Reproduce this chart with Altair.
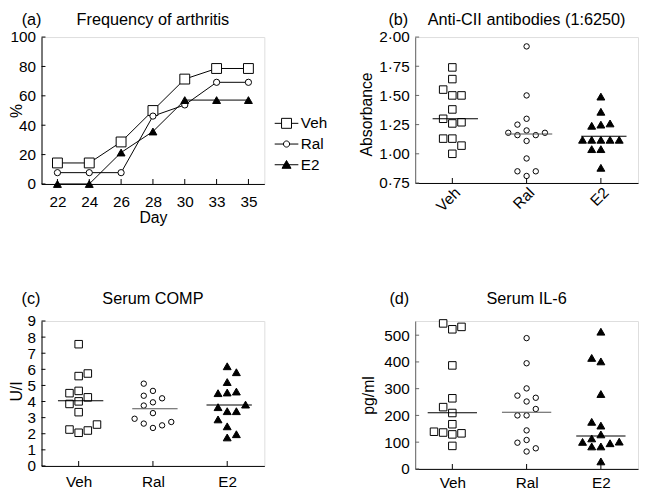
import altair as alt
import pandas as pd

FONT = "Liberation Sans"
GROUPS = ["Veh", "Ral", "E2"]

# ---------------- (a) Frequency of arthritis ----------------
days = ["22", "24", "26", "28", "30", "33", "35"]
freq_veh = [14.3, 14.3, 28.6, 50.0, 71.4, 78.6, 78.6]
freq_ral = [7.7, 7.7, 7.7, 46.2, 53.8, 69.2, 69.2]
freq_e2 = [0.0, 0.0, 21.4, 35.7, 57.1, 57.1, 57.1]
pct_ticks = [0, 20, 40, 60, 80, 100]

# ---------------- (b) Anti-CII antibodies ----------------
abs_veh = [1.74, 1.64, 1.55, 1.50, 1.50, 1.38, 1.30, 1.26, 1.27, 1.13, 1.13, 1.07, 1.00]
abs_veh_pos = [0, 0, -1, 0, 1, 0, -1, 0, 1, -1, 0, 1, 0]
abs_ral = [1.92, 1.50, 1.30, 1.25, 1.18, 1.16, 1.20, 1.16, 1.18, 1.11, 0.96, 0.85, 0.85, 0.81]
abs_ral_pos = [0, 0, 0, -1, -2, -1, 0, 1, 2, 0, 0, -1, 1, 0]
abs_e2 = [1.49, 1.36, 1.24, 1.25, 1.26, 1.12, 1.12, 1.12, 1.12, 1.12, 1.04, 1.04, 0.88]
abs_e2_pos = [0, 0, -1, 0, 1, -2, -1, 0, 1, 2, -1, 0, 0]
abs_median = [1.30, 1.17, 1.15]
abs_ticks = [0.75, 1.0, 1.25, 1.5, 1.75, 2.0]

# ---------------- (c) Serum COMP ----------------
comp_veh = [7.56, 5.58, 5.74, 4.66, 4.52, 4.26, 4.01, 3.85, 3.34, 2.26, 2.06, 2.20, 2.57]
comp_veh_pos = [0, 0, 1, 0, -1, 1, 0, -1, 0, -1, 0, 1, 2]
comp_ral = [5.11, 4.36, 4.66, 4.20, 3.75, 3.95, 3.28, 2.93, 2.63, 2.36, 2.52, 2.73]
comp_ral_pos = [-1, -1, 0, 1, -1, 0, 0, -2, -1, 0, 1, 2]
comp_e2 = [6.19, 5.82, 5.21, 4.52, 4.56, 4.62, 3.65, 3.81, 3.40, 3.40, 2.89, 2.46, 1.77, 1.97]
comp_e2_pos = [0, 1, 0, -1, 0, 1, -1, 2, 0, 1, -1, 0, 0, 1]
comp_median = [4.05, 3.55, 3.78]
comp_ticks = [0, 1, 2, 3, 4, 5, 6, 7, 8, 9]

# ---------------- (d) Serum IL-6 ----------------
il6_veh = [544, 531, 522, 387, 264, 231, 209, 167, 139, 136, 129, 133, 86]
il6_veh_pos = [-1, 1, 0, 0, 0, -1, 0, 0, -2, -1, 0, 1, 0]
il6_ral = [489, 395, 301, 274, 252, 266, 224, 200, 200, 144, 98, 108, 77, 65]
il6_ral_pos = [0, 0, 0, -1, 0, 1, 1, -1, 0, 0, -1, 0, 1, 0]
il6_e2 = [513, 415, 402, 280, 176, 162, 129, 114, 101, 84, 84, 96, 102, 28]
il6_e2_pos = [0, -1, 0, 0, -1, 0, 0, -1, -2, -1, 0, 1, 2, 0]
il6_median = [210, 212, 123]
il6_ticks = [0, 100, 200, 300, 400, 500]

W = 226
LABEL_FS = 15.5
TITLE_FS = 16.5


def axis_common(**kw):
    base = dict(ticks=False, grid=False, domainColor="black", domainWidth=1,
                labelFont=FONT, labelFontSize=LABEL_FS, labelColor="black",
                titleFont=FONT, titleFontSize=16, titleFontWeight="normal",
                titleColor="black", labelOverlap=False)
    base.update(kw)
    return alt.Axis(**base)


def header(letter, title, letter_x, B, width):
    t1 = alt.Chart(pd.DataFrame({"t": [letter]})).mark_text(
        align="right", baseline="alphabetic", font=FONT, fontSize=TITLE_FS, color="black"
    ).encode(text="t:N", x=alt.value(letter_x), y=alt.value(-B))
    t2 = alt.Chart(pd.DataFrame({"t": [title]})).mark_text(
        align="center", baseline="alphabetic", font=FONT, fontSize=TITLE_FS, color="black"
    ).encode(text="t:N", x=alt.value(width / 2), y=alt.value(-B))
    return [t1, t2]


def yticks_layer(vals, field, yenc, color):
    return alt.Chart(pd.DataFrame({field: vals})).mark_tick(
        orient="horizontal", size=4, thickness=1, color=color, opacity=1
    ).encode(y=yenc, x=alt.value(2))


def xticks_layer(cats, field, xenc, height, color):
    return alt.Chart(pd.DataFrame({field: cats})).mark_tick(
        orient="vertical", size=5, thickness=1, color=color, opacity=1
    ).encode(x=xenc, y=alt.value(height - 2.5))


# ---------------- panel (a) ----------------
rows = []
for g, vals in zip(GROUPS, [freq_veh, freq_ral, freq_e2]):
    for d, v in zip(days, vals):
        rows.append({"Day": d, "Group": g, "Pct": v})
dfa = pd.DataFrame(rows)

HA = 149
xa = alt.X("Day:O", scale=alt.Scale(type="point", domain=days, padding=0.5),
           axis=axis_common(title="Day", labelAngle=0, labelPadding=11,
                            titleX=W / 2, titleY=26.5, titleBaseline="top", titleAlign="center"))
ya = alt.Y("Pct:Q", scale=alt.Scale(domain=[0, 100], nice=False, zero=False),
           axis=axis_common(title="%", values=pct_ticks, labelPadding=6,
                            titleX=-25, titleY=HA / 2, titleBaseline="middle",
                            titleAlign="center", titleAngle=270))

line_a = alt.Chart(dfa).mark_line(color="black", strokeWidth=1).encode(x=xa, y=ya, detail="Group:N")
pts_a = []
for g, shp, sz, fc in [("Veh", "square", 100, "white"), ("Ral", "circle", 40, "white"),
                       ("E2", "triangle-up", 64, "black")]:
    pts_a.append(alt.Chart(dfa).transform_filter(alt.datum.Group == g).mark_point(
        shape=shp, size=sz, filled=True, fill=fc, stroke="black", strokeWidth=1, opacity=1
    ).encode(x=xa, y=ya))

legend_paths = [
    "M-1,0H-0.42M0.42,0H1M-0.42,-0.42H0.42V0.42H-0.42Z",
    "M-1,0H-0.26M0.26,0H1M0.26,0A0.26,0.26,0,1,1,-0.26,0A0.26,0.26,0,1,1,0.26,0Z",
    "M-1,0H1M0,-0.36L0.38,0.3L-0.38,0.3Z",
]
LEG = alt.Legend(title=None, orient="none", legendX=236, legendY=75, symbolSize=576,
                 symbolStrokeWidth=1, symbolOpacity=1,
                 labelFont=FONT, labelFontSize=LABEL_FS, labelColor="black",
                 labelOffset=2, rowPadding=-5.4, padding=0)
leg_a = alt.Chart(dfa).transform_filter("false").mark_point(
    filled=True, strokeWidth=1, opacity=1
).encode(
    x=xa, y=ya,
    shape=alt.Shape("Group:N", scale=alt.Scale(domain=GROUPS, range=legend_paths), legend=LEG),
    fill=alt.Fill("Group:N", scale=alt.Scale(domain=GROUPS, range=["white", "white", "black"]), legend=LEG),
    stroke=alt.Stroke("Group:N", scale=alt.Scale(domain=GROUPS, range=["black", "black", "black"]), legend=LEG),
)

panel_a = alt.layer(
    line_a, *pts_a, leg_a,
    yticks_layer(pct_ticks, "Pct", ya, "black"),
    xticks_layer(days, "Day", xa, HA, "black"),
    *header("(a)", "Frequency of arthritis", 0, 12.5, W),
).properties(width=W, height=HA)


# ---------------- scatter panels ----------------
def scatter_panel(vals, poss, medians, ticks, ydom, height, ytitle, title_x, title_y,
                  title, letter, letter_x, B, x_axis_kw, label_expr=None, ycolor="black",
                  med_colors=("black", "black", "black"), med_size=46, med_off=3):
    rows = []
    for g, v, p in zip(GROUPS, vals, poss):
        for vi, pi in zip(v, p):
            rows.append({"Group": g, "value": vi, "col": pi})
    df = pd.DataFrame(rows)
    med = pd.DataFrame({"Group": GROUPS, "value": medians})

    xs = alt.X("Group:N", scale=alt.Scale(type="point", domain=GROUPS, padding=0.5),
               axis=axis_common(title=None, **x_axis_kw))
    ykw = dict(title=ytitle, values=ticks, labelPadding=6, domainColor=ycolor,
               titleX=title_x, titleY=title_y, titleBaseline="middle",
               titleAlign="center", titleAngle=270)
    if label_expr:
        ykw["labelExpr"] = label_expr
    ys = alt.Y("value:Q", scale=alt.Scale(domain=ydom, nice=False, zero=False),
               axis=axis_common(**ykw))
    xoff = alt.XOffset("col:O", scale=alt.Scale(type="point", domain=[-2, -1, 0, 1, 2],
                                                 range=[-18.6, 18.6], padding=0))
    layers = []
    for g, shp, sz, fc in [("Veh", "square", 58, "white"), ("Ral", "circle", 30, "white"),
                           ("E2", "triangle-up", 64, "black")]:
        layers.append(alt.Chart(df).transform_filter(alt.datum.Group == g).mark_point(
            shape=shp, size=sz, filled=True, fill=fc, stroke="black", strokeWidth=1, opacity=1
        ).encode(x=xs, y=ys, xOffset=xoff))
    med_layer = alt.Chart(med).mark_tick(
        orient="horizontal", size=med_size, thickness=1, opacity=1, xOffset=med_off
    ).encode(x=xs, y=ys,
             color=alt.Color("Group:N", scale=alt.Scale(domain=GROUPS, range=list(med_colors)),
                             legend=None))
    layers.append(med_layer)
    layers.append(yticks_layer(ticks, "value", ys, ycolor))
    layers.append(xticks_layer(GROUPS, "Group", xs, height, "black"))
    layers += header(letter, title, letter_x, B, W)
    return alt.layer(*layers).properties(width=W, height=height)


panel_b = scatter_panel(
    [abs_veh, abs_ral, abs_e2], [abs_veh_pos, abs_ral_pos, abs_e2_pos], abs_median,
    abs_ticks, [0.75, 2.0], 148, "Absorbance", -49, 78,
    "Anti-CII antibodies (1:6250)", "(b)", -7, 12.5,
    dict(labelAngle=315, labelAlign="right", labelBaseline="top", labelPadding=2),
    label_expr="replace(format(datum.value, '.2f'), '.', '·')",
    ycolor="#666", med_colors=("black", "#555", "black"), med_size=46, med_off=3,
)

panel_c = scatter_panel(
    [comp_veh, comp_ral, comp_e2], [comp_veh_pos, comp_ral_pos, comp_e2_pos], comp_median,
    comp_ticks, [0, 9], 147, "U/I", -25, 71,
    "Serum COMP", "(c)", -1, 17,
    dict(labelAngle=0, labelPadding=9),
    med_size=46, med_off=2,
)

panel_d = scatter_panel(
    [il6_veh, il6_ral, il6_e2], [il6_veh_pos, il6_ral_pos, il6_e2_pos], il6_median,
    il6_ticks, [0, 553], 150, "pg/ml", -47, 75,
    "Serum IL-6", "(d)", -6, 17,
    dict(labelAngle=0, labelPadding=7),
    ycolor="#666", med_colors=("black", "black", "#666"), med_size=50, med_off=0,
)

chart = alt.concat(
    panel_a, panel_b, panel_c, panel_d,
    columns=2, spacing={"row": 139, "column": 153}, bounds="flush",
).properties(
    padding={"left": 0, "top": 0, "right": 0, "bottom": 0}
).configure_view(stroke=None).configure(font=FONT)

chart.save("out.html", embed_options={"renderer": "svg", "actions": False})
